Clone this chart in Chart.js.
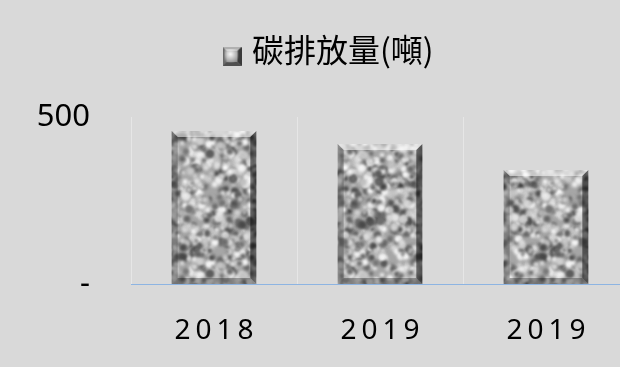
<!DOCTYPE html>
<html>
<head>
<meta charset="utf-8">
<script src="https://cdn.jsdelivr.net/npm/chart.js@4"></script>
<style>
html,body{margin:0;padding:0;background:#d9d9d9;overflow:hidden;}
#wrap{width:620px;height:367px;overflow:hidden;position:relative;}
#c{position:absolute;left:0;top:0;}
</style>
</head>
<body>
<div id="wrap"><canvas id="c" width="640" height="367"></canvas></div>
<script>
const categories = ['2018', '2019', '2019'];
const seriesName = '碳排放量(噸)';
const emissions = [458, 419, 341];
const yTickValues = [0, 500];
const yTickLabels = ['-', '500'];

// deterministic texture (styling only)
function mulberry32(a){return function(){a|=0;a=a+0x6D2B79F5|0;let t=Math.imul(a^a>>>15,1|a);t=t+Math.imul(t^t>>>7,61|t)^t;return((t^t>>>14)>>>0)/4294967296;}}
function makeTexture(){
  const rnd = mulberry32(12345);
  const t = document.createElement('canvas');
  t.width = 120; t.height = 120;
  const g = t.getContext('2d');
  g.fillStyle = '#a6a6a6'; g.fillRect(0,0,120,120);
  g.filter = 'blur(1.6px)';
  for (let i=0;i<750;i++){
    const x = rnd()*120, y = rnd()*120, r = 1.3+rnd()*2.8;
    const v = rnd();
    const c = v<0.45 ? Math.floor(65+rnd()*55) : Math.floor(190+rnd()*65);
    g.fillStyle = 'rgb('+c+','+c+','+c+')';
    for (const dx of [-120,0,120]) for (const dy of [-120,0,120]) {
      g.beginPath(); g.arc(x+dx,y+dy,r,0,Math.PI*2); g.fill();
    }
  }
  return t;
}
function makeMarker(){
  const s = 19, off = 14;
  const m = document.createElement('canvas');
  m.width = s; m.height = s + off;
  const g = m.getContext('2d');
  g.translate(0, off);
  g.fillStyle = '#8a8a8a'; g.fillRect(0,0,s,s);
  const b = 4;
  g.fillStyle = '#b0b0b0'; g.beginPath(); g.moveTo(0,0); g.lineTo(s,0); g.lineTo(s-b,b); g.lineTo(b,b); g.fill();
  g.fillStyle = '#6a6a6a'; g.beginPath(); g.moveTo(0,0); g.lineTo(b,b); g.lineTo(b,s-b); g.lineTo(0,s); g.fill();
  g.fillStyle = '#3a3a3a'; g.beginPath(); g.moveTo(s,0); g.lineTo(s,s); g.lineTo(s-b,s-b); g.lineTo(s-b,b); g.fill();
  g.fillStyle = '#505050'; g.beginPath(); g.moveTo(0,s); g.lineTo(s,s); g.lineTo(s-b,s-b); g.lineTo(b,s-b); g.fill();
  const rg = g.createRadialGradient(s*0.42,s*0.38,0,s*0.42,s*0.38,s*0.5);
  rg.addColorStop(0,'rgba(255,255,255,0.95)'); rg.addColorStop(1,'rgba(255,255,255,0)');
  g.fillStyle = rg; g.fillRect(2,2,s-5,s-5);
  return m;
}
const tex = makeTexture();
const pattern = document.createElement('canvas').getContext('2d').createPattern(tex,'repeat');
const marker = makeMarker();

const LEGEND_FONT = 32;
const legendPlace = {
  id: 'legendPlace',
  afterLayout(chart){
    const L = chart.legend;
    if (!L) return;
    const pad = L.options.labels.padding;
    const cy = L.top + pad + LEGEND_FONT / 2;
    const dy = 49.5 - cy;
    const cx = (L.left + pad + L.right - L.lineWidths[0]) / 2;
    const dx = 228 - cx;
    L.top += dy; L.bottom += dy; L.left += dx; L.right += dx;
  }
};

const bevelPlugin = {
  id: 'bevel',
  afterDatasetsDraw(chart){
    const ctx = chart.ctx;
    chart.getDatasetMeta(0).data.forEach(el => {
      const w = el.width, x0 = el.x - w/2, x1 = el.x + w/2, y0 = el.y, y1 = el.base;
      const b = 6;
      ctx.save();
      ctx.fillStyle = 'rgba(255,255,255,0.55)';
      ctx.beginPath(); ctx.moveTo(x0,y0); ctx.lineTo(x1,y0); ctx.lineTo(x1-b,y0+b); ctx.lineTo(x0+b,y0+b); ctx.fill();
      ctx.fillStyle = 'rgba(50,50,50,0.35)';
      ctx.beginPath(); ctx.moveTo(x0,y0); ctx.lineTo(x0+b,y0+b); ctx.lineTo(x0+b,y1-b); ctx.lineTo(x0,y1); ctx.fill();
      ctx.fillStyle = 'rgba(0,0,0,0.5)';
      ctx.beginPath(); ctx.moveTo(x1,y0); ctx.lineTo(x1,y1); ctx.lineTo(x1-b,y1-b); ctx.lineTo(x1-b,y0+b); ctx.fill();
      ctx.fillStyle = 'rgba(0,0,0,0.3)';
      ctx.beginPath(); ctx.moveTo(x0,y1); ctx.lineTo(x1,y1); ctx.lineTo(x1-b,y1-b); ctx.lineTo(x0+b,y1-b); ctx.fill();
      ctx.restore();
    });
  }
};

const xLabelPlugin = {
  id: 'xlabels',
  afterDraw(chart){
    const ctx = chart.ctx, sx = chart.scales.x;
    ctx.save();
    ctx.font = '28px "Noto Sans", "Open Sans", sans-serif';
    ctx.fillStyle = '#000';
    ctx.textAlign = 'center';
    ctx.textBaseline = 'middle';
    try { ctx.letterSpacing = '5px'; } catch(e) {}
    chart.data.labels.forEach((lab, i) => {
      ctx.fillText(lab, sx.getPixelForTick(i) + 2.5, 331);
    });
    ctx.restore();
  }
};

const chart = new Chart(document.getElementById('c'), {
  type: 'bar',
  data: {
    labels: categories,
    datasets: [{
      label: seriesName,
      data: emissions,
      backgroundColor: pattern,
      borderWidth: 0,
      barPercentage: 0.51,
      categoryPercentage: 1.0
    }]
  },
  options: {
    responsive: false,
    animation: false,
    devicePixelRatio: 1,
    layout: { padding: { top: 20, right: 11, bottom: 0, left: 0 } },
    plugins: {
      tooltip: { enabled: false },
      legend: {
        display: true,
        position: 'top',
        labels: {
          usePointStyle: true,
          pointStyle: marker,
          pointStyleWidth: 8,
          color: '#000',
          padding: 10,
          font: { family: '"Noto Sans CJK TC", "Noto Sans", sans-serif', size: LEGEND_FONT }
        }
      }
    },
    scales: {
      x: {
        grid: { display: true, offset: true, drawTicks: false, color: '#e6e6e6', lineWidth: 1 },
        border: { display: true, color: '#8db4e2', width: 1 },
        ticks: { display: false },
        afterFit(s){ s.height = 83; }
      },
      y: {
        min: 0, max: 500,
        afterBuildTicks(s){ s.ticks = yTickValues.map(v => ({ value: v })); },
        grid: { display: false, drawTicks: false },
        border: { display: false },
        ticks: {
          padding: 41,
          color: '#000',
          font: { family: '"Noto Sans", "Open Sans", sans-serif', size: 31 },
          callback(v){ const i = yTickValues.indexOf(v); return i >= 0 ? yTickLabels[i] : ''; }
        },
        afterFit(s){ s.width = 131; }
      }
    }
  },
  plugins: [legendPlace, bevelPlugin, xLabelPlugin]
});
// align plot top to reference
const d = 117 - chart.chartArea.top;
if (d !== 0) { chart.options.layout.padding.top += d; chart.update('none'); }
</script>
</body>
</html>
